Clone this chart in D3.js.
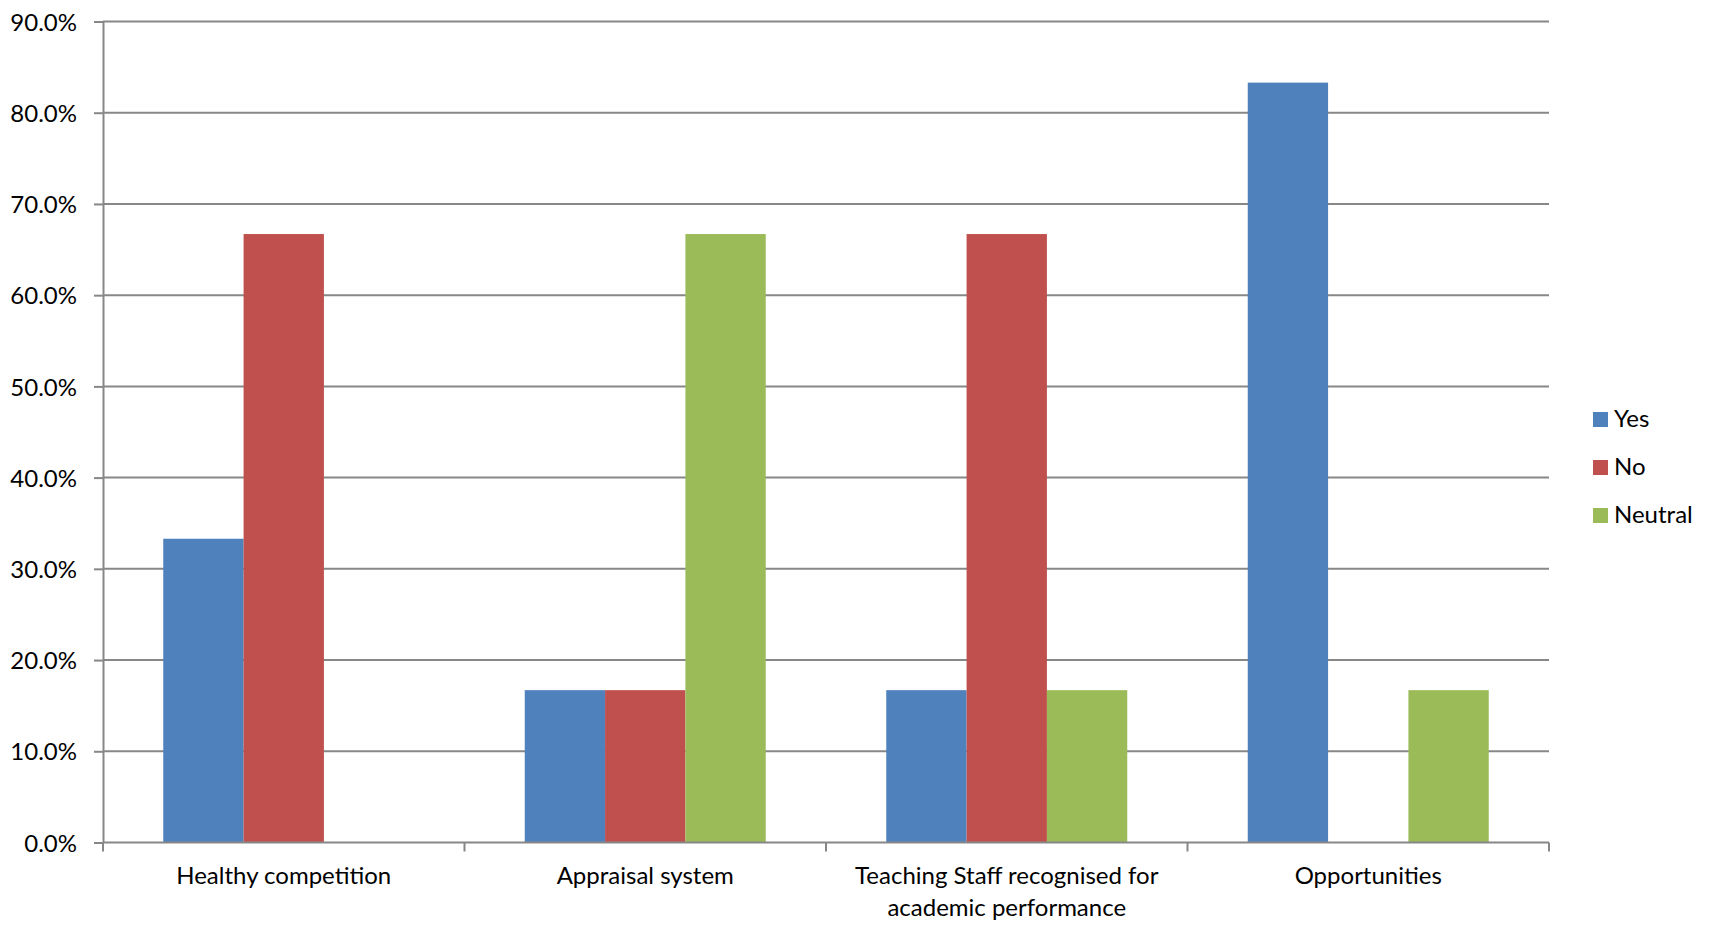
<!DOCTYPE html>
<html>
<head>
<meta charset="utf-8">
<script src="https://cdn.jsdelivr.net/npm/d3@7"></script>
<style>
  html, body { margin: 0; padding: 0; background: #fff; }
  svg { display: block; }
  text { font-family: Lato, "Open Sans", sans-serif; fill: #000; }
</style>
</head>
<body>
<svg id="chart" width="1711" height="925"></svg>
<script>
// Survey responses per factor
const categories = [
  ["Healthy competition"],
  ["Appraisal system"],
  ["Teaching Staff recognised for", "academic performance"],
  ["Opportunities"]
];
const seriesNames = ["Yes", "No", "Neutral"];
const yesValues = [33.3, 16.7, 16.7, 83.3];
const noValues = [66.7, 16.7, 66.7, 0];
const neutralValues = [0, 66.7, 16.7, 16.7];
const yTicks = [0, 10, 20, 30, 40, 50, 60, 70, 80, 90];
const colors = ["#4F81BD", "#C0504D", "#9BBB59"];

const seriesValues = [yesValues, noValues, neutralValues];
const catKeys = categories.map(c => c.join(" "));

const svg = d3.select("#chart");
const plot = { left: 103, right: 1549, top: 21.5, bottom: 842.5 };

const x0 = d3.scaleBand().domain(catKeys).range([plot.left, plot.right]).padding(0);
const x1 = d3.scaleBand().domain(seriesNames).range([0, x0.bandwidth()])
  .paddingInner(0).paddingOuter(0.75);
const y = d3.scaleLinear().domain([0, 90]).range([plot.bottom, plot.top]);

const gridColor = "#878787";
const fontSize = 24;

// Horizontal gridlines and left axis
const yAxis = d3.axisLeft(y).tickValues(yTicks).tickSize(9).tickPadding(17)
  .tickFormat(d => d.toFixed(1) + "%");
const gy = svg.append("g").attr("transform", `translate(${plot.left},0)`).call(yAxis);
gy.select(".domain").attr("stroke", gridColor).attr("stroke-width", 2)
  .attr("d", `M0.5,${plot.top}V${plot.bottom}`);
gy.selectAll(".tick line").attr("stroke", gridColor).attr("stroke-width", 2);
gy.selectAll(".tick text").attr("font-size", fontSize).attr("font-family", "Lato, sans-serif")
  .attr("fill", "#000").attr("dy", "0.36em");

svg.append("g").selectAll("line").data(yTicks.filter(t => t > 0)).join("line")
  .attr("x1", plot.left).attr("x2", plot.right)
  .attr("y1", d => y(d)).attr("y2", d => y(d))
  .attr("stroke", gridColor).attr("stroke-width", 2);

// Bars
const groups = svg.append("g").selectAll("g").data(catKeys).join("g")
  .attr("transform", d => `translate(${x0(d)},0)`);
groups.selectAll("rect")
  .data((d, i) => seriesNames.map((s, j) => ({ s, j, v: seriesValues[j][i] })))
  .join("rect")
  .attr("x", d => x1(d.s))
  .attr("width", x1.bandwidth())
  .attr("y", d => y(d.v))
  .attr("height", d => y(0) - y(d.v))
  .attr("fill", d => colors[d.j]);

// Bottom axis with boundary ticks
const gx = svg.append("g");
gx.append("line").attr("x1", plot.left).attr("x2", plot.right)
  .attr("y1", plot.bottom).attr("y2", plot.bottom)
  .attr("stroke", gridColor).attr("stroke-width", 2);
const boundaries = catKeys.map(k => x0(k)).concat([plot.right]);
gx.selectAll("line.tick").data(boundaries).join("line").attr("class", "tick")
  .attr("x1", d => d).attr("x2", d => d)
  .attr("y1", plot.bottom).attr("y2", plot.bottom + 9)
  .attr("stroke", gridColor).attr("stroke-width", 2);

// Category labels
const labels = svg.append("g").selectAll("text").data(categories).join("text")
  .attr("x", (d, i) => x0(catKeys[i]) + x0.bandwidth() / 2)
  .attr("y", 884)
  .attr("text-anchor", "middle")
  .attr("font-size", fontSize);
labels.selectAll("tspan").data(d => d).join("tspan")
  .attr("x", function () { return d3.select(this.parentNode).attr("x"); })
  .attr("dy", (d, i) => i === 0 ? 0 : 32)
  .text(d => d);

// Legend
const legend = svg.append("g").selectAll("g").data(seriesNames).join("g")
  .attr("transform", (d, i) => `translate(1593,${412 + i * 48})`);
legend.append("rect").attr("width", 15).attr("height", 15)
  .attr("fill", (d, i) => colors[i]);
legend.append("text").attr("x", 21).attr("y", 15).attr("font-size", fontSize).text(d => d);
</script>
</body>
</html>
